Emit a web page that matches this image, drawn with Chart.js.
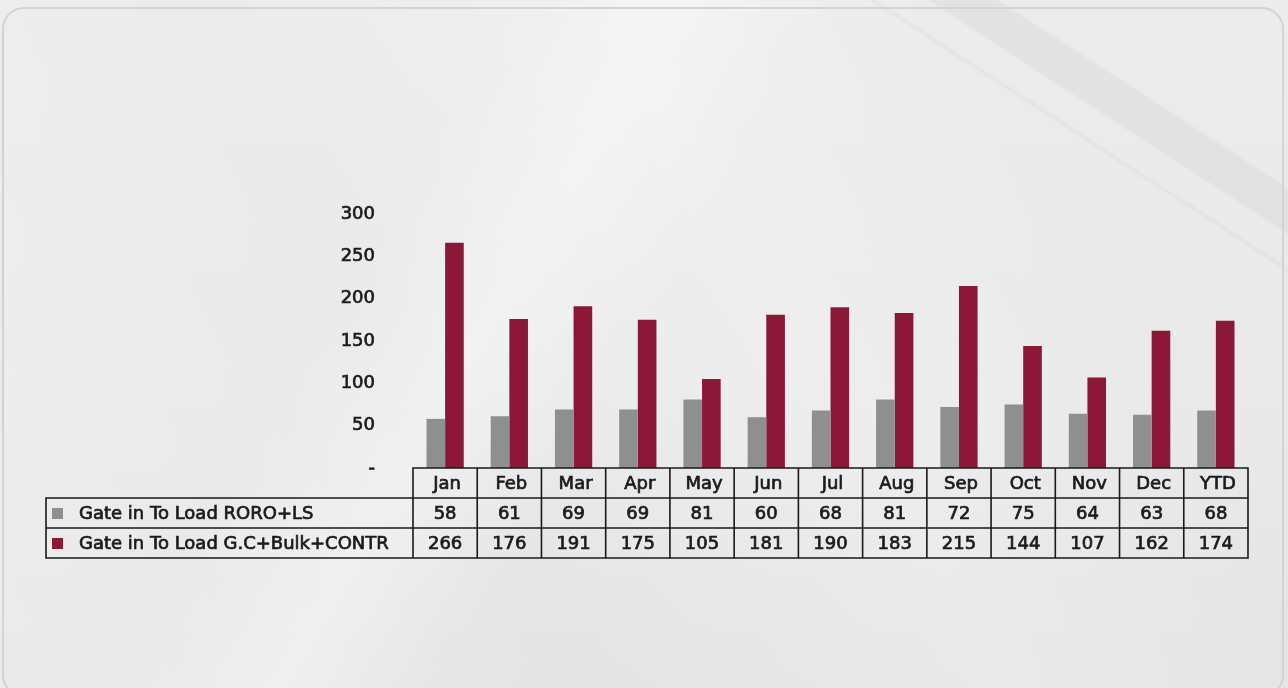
<!DOCTYPE html>
<html>
<head>
<meta charset="utf-8">
<script src="https://cdn.jsdelivr.net/npm/chart.js@4.4.0/dist/chart.umd.min.js"></script>
<style>
  html, body { margin: 0; padding: 0; }
  body {
    width: 1288px; height: 688px; overflow: hidden; position: relative;
    background:
      linear-gradient(33deg, transparent 82%, rgba(0,0,0,0.03) 82.3%, transparent 82.6%, transparent 84.5%, rgba(0,0,0,0.04) 84.8%, rgba(0,0,0,0.04) 87.5%, transparent 87.8%),
      linear-gradient(120deg, transparent 30%, rgba(255,255,255,0.35) 40%, transparent 50%),
      linear-gradient(60deg, rgba(255,255,255,0.25) 0%, transparent 35%, rgba(255,255,255,0.2) 60%, transparent 80%),
      linear-gradient(180deg, #ececec 0%, #e9e9e9 60%, #e4e4e4 100%);
  }
  #frame {
    position: absolute; left: 2px; top: 7px; width: 1282px; height: 690px;
    border: 2px solid #d3d3d3; border-radius: 22px; box-sizing: border-box;
  }
  #chart_wrap { position: absolute; left: 0; top: 0; width: 1288px; height: 688px; }
</style>
</head>
<body>
<div id="frame"></div>
<div id="chart_wrap"><canvas id="myChart" width="1288" height="688"></canvas></div>
<script>
// chart data
const months = ['Jan', 'Feb', 'Mar', 'Apr', 'May', 'Jun', 'Jul', 'Aug', 'Sep', 'Oct', 'Nov', 'Dec', 'YTD'];
const roro_ls = [58, 61, 69, 69, 81, 60, 68, 81, 72, 75, 64, 63, 68];
const gc_bulk_contr = [266, 176, 191, 175, 105, 181, 190, 183, 215, 144, 107, 162, 174];
const series_names = ['Gate in To Load RORO+LS', 'Gate in To Load G.C+Bulk+CONTR'];
const y_ticks = [0, 50, 100, 150, 200, 250, 300];

const grey = '#8f8f91';
const red = '#8c1837';
const ink = '#1a1a1a';
const font_family = '"DejaVu Sans", sans-serif';
const font_size = 18;

//  data table plugin starts
const data_table = {
  id: 'data_table',
  afterDraw(chart) {
    const ctx = chart.ctx;
    const x = chart.scales.x;
    const area = chart.chartArea;
    const col_w = (area.right - area.left) / months.length;
    const row_h = 30;
    const top = area.bottom;
    const label_left = 46;
    const rows = [roro_ls, gc_bulk_contr];
    const colors = [grey, red];

    const write = (txt, tx, ty) => {
      ctx.strokeText(txt, tx, ty);
      ctx.fillText(txt, tx, ty);
    };

    ctx.save();
    ctx.strokeStyle = ink;
    ctx.lineWidth = 1.6;
    ctx.beginPath();
    // header row + value cells
    months.forEach((m, i) => {
      const cx = x.getPixelForValue(i);
      ctx.rect(cx - col_w / 2, top, col_w, row_h * 3);
    });
    for (let j = 1; j <= 2; j++) {
      ctx.moveTo(label_left, top + row_h * j);
      ctx.lineTo(area.right, top + row_h * j);
    }
    ctx.rect(label_left, top + row_h, area.left - label_left, row_h * 2);
    ctx.stroke();

    ctx.fillStyle = ink;
    ctx.lineWidth = 0.7;
    ctx.font = font_size + 'px ' + font_family;
    ctx.textAlign = 'center';
    ctx.textBaseline = 'middle';
    months.forEach((m, i) => {
      const cx = x.getPixelForValue(i);
      write(m, cx + 2, top + row_h / 2 + 1);
      rows.forEach((r, j) => {
        write(String(r[i]), cx, top + row_h * (j + 1.5) + 1);
      });
    });

    // series labels with colour keys
    ctx.textAlign = 'left';
    series_names.forEach((name, j) => {
      const cy = top + row_h * (j + 1.5);
      ctx.fillStyle = colors[j];
      ctx.fillRect(52, cy - 5, 11, 11);
      ctx.fillStyle = ink;
      write(name, 79, cy + 1);
    });
    ctx.restore();
  }
};
//  data table plugin ends

//  Chart-JS starts
const ctx = document.getElementById('myChart').getContext('2d');
const myChart = new Chart(ctx, {
  type: 'bar',
  data: {
    labels: months,
    datasets: [{
      label: series_names[0],
      data: roro_ls,
      backgroundColor: grey
    }, {
      label: series_names[1],
      data: gc_bulk_contr,
      backgroundColor: red
    }]
  },
  options: {
    responsive: false,
    animation: false,
    devicePixelRatio: 1,
    layout: { padding: { left: 0, right: 40, top: 214, bottom: 220 } },
    datasets: { bar: { categoryPercentage: 0.58, barPercentage: 1 } },
    plugins: { legend: { display: false }, tooltip: { enabled: false } },
    scales: {
      x: { display: false },
      y: {
        min: 0,
        max: 300,
        afterFit: (s) => { s.width = 413; },
        afterBuildTicks: (s) => { s.ticks = y_ticks.map(v => ({ value: v })); },
        grid: { display: false, drawTicks: false },
        border: { display: false },
        ticks: {
          padding: 38,
          color: ink,
          textStrokeColor: ink,
          textStrokeWidth: 0.7,
          font: { family: font_family, size: font_size },
          callback: (v) => v === 0 ? '-' : v
        }
      }
    }
  },
  plugins: [data_table]
});
//  Chart-JS ends
</script>
</body>
</html>
